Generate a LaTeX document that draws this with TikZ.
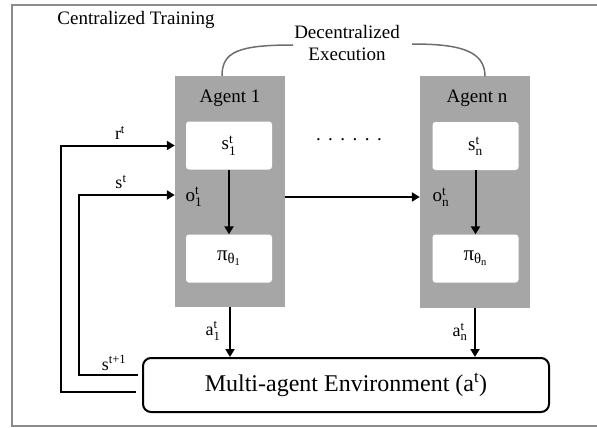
\documentclass[tikz,border=0pt]{standalone}
\usepackage{fontspec}
\usepackage{amsmath}
\setmainfont{Liberation Serif}
\usetikzlibrary{arrows.meta}
\definecolor{agentgray}{HTML}{A6A6A6}
\definecolor{framegray}{HTML}{8C8C8C}
\definecolor{curvegray}{HTML}{6E6E6E}
\begin{document}
\begin{tikzpicture}[x=1pt,y=-1pt,
  agentbox/.style={fill=agentgray,draw=none,minimum width=110pt,minimum height=231pt,inner sep=0pt},
  inbox/.style={fill=white,draw=none,rounded corners=3pt,minimum width=86pt,minimum height=48pt,inner sep=0pt,font=\fontsize{19}{22}\selectfont},
  titletext/.style={font=\fontsize{19}{22}\selectfont,inner sep=0pt},
  lbl/.style={font=\fontsize{18}{21}\selectfont,inner sep=0pt},
  envbox/.style={draw=black,line width=2pt,rounded corners=8pt,fill=white,minimum width=406pt,minimum height=54pt,inner sep=0pt,font=\fontsize{24}{28}\selectfont},
  arr/.style={draw=black,line width=2pt,-{Triangle[length=8pt,width=9pt]}},
  curve/.style={draw=curvegray,line width=1.5pt}]
\useasboundingbox (0,0) rectangle (597,428);
% frame
\draw[framegray,line width=2pt] (597,5) -- (12,5) -- (12,426) -- (597,426);
\node[titletext] (ct) at (136,20) {Centralized Training};
\node[titletext,align=center] (de) at (347,43) {Decentralized\\[0pt]Execution};
% agents
\node[agentbox] (agent1) at (230,191.5) {};
\node[agentbox] (agentn) at (475,192) {};
\node[titletext] (a1name) at (230,98) {Agent 1};
\node[titletext] (anname) at (477,98) {Agent n};
\node[inbox] (s1) at (229,145.5) {$\text{s}^{\text{t}}_{\text{1}}$};
\node[inbox,font=\fontsize{21}{24}\selectfont] (pi1) at (229,258.5) {$\text{π}_{\text{θ}_{\text{1}}}$};
\node[inbox] (sn) at (475.5,146) {$\text{s}^{\text{t}}_{\text{n}}$};
\node[inbox,font=\fontsize{21}{24}\selectfont] (pin) at (475.5,258.5) {$\text{π}_{\text{θ}_{\text{n}}}$};
\node[lbl,font=\fontsize{19}{22}\selectfont] (o1) at (194,197) {$\text{o}^{\text{t}}_{\text{1}}$};
\node[lbl,font=\fontsize{19}{22}\selectfont] (on) at (441,197) {$\text{o}^{\text{t}}_{\text{n}}$};
\node[titletext] (dots) at (349,140) {.\hspace{7.5pt}.\hspace{7.5pt}.\hspace{7.5pt}.\hspace{7.5pt}.\hspace{7.5pt}.};
% environment
\node[envbox] (env) at (346,385) {Multi-agent Environment (a\textsuperscript{t})};
% labels
\node[lbl] (rlbl) at (120,133) {$\text{r}^{\text{t}}$};
\node[lbl] (slbl) at (121,182) {$\text{s}^{\text{t}}$};
\node[lbl] (s1lbl) at (114,363) {$\text{s}^{\text{t+1}}$};
\node[lbl] (a1lbl) at (213,331) {$\text{a}^{\text{t}}_{\text{1}}$};
\node[lbl] (anlbl) at (460,332) {$\text{a}^{\text{t}}_{\text{n}}$};
% connectors
\draw[arr] (s1) -- (pi1);
\draw[arr] (sn) -- (pin);
\draw[arr] (agent1.south) -- (agent1.south |- env.north);
\draw[arr] (agentn.south) -- (agentn.south |- env.north);
\draw[arr] (agent1.east |- o1) -- (agentn.west |- o1);
\draw[arr,shorten <=6pt] (env.west |- 0,392) -- (61,392) |- (agent1.west |- s1);
\draw[arr,shorten <=4pt] (env.west |- 0,375) -- (79,375) |- (agent1.west |- 0,195);
% curves
\draw[curve] ([xshift=-8pt]agent1.north) .. controls (222,52) and (238,45) .. (293,45);
\draw[curve] (412,44) .. controls (458,44) and (485,50) .. ([xshift=10pt]agentn.north);
\end{tikzpicture}
\end{document}
